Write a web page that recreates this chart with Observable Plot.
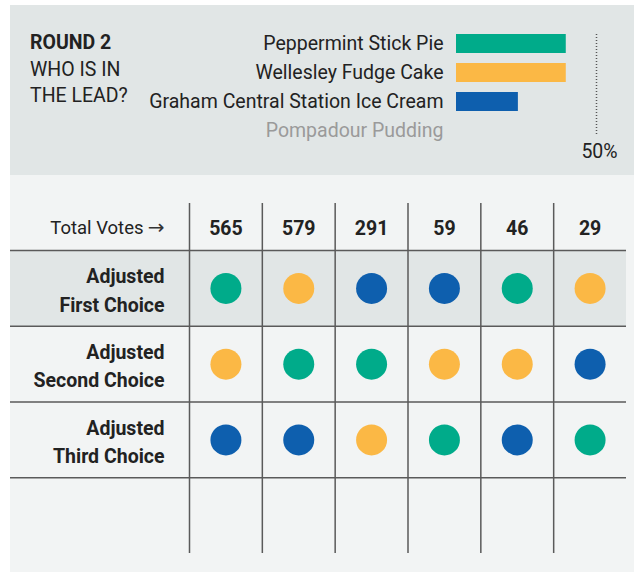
<!DOCTYPE html>
<html><head><meta charset="utf-8">
<script src="https://cdn.jsdelivr.net/npm/d3@7"></script>
<script src="https://cdn.jsdelivr.net/npm/@observablehq/plot@0.6"></script>
<style>
html,body{margin:0;padding:0;background:#fff;}
body{width:634px;height:572px;position:relative;overflow:hidden;font-family:Roboto,sans-serif;color:#222;}
#top{position:absolute;left:10px;top:5px;width:624px;height:170px;background:#e1e6e6;}
#bottom{position:absolute;left:10px;top:175px;width:624px;height:397px;background:#f2f4f4;}
#title{position:absolute;left:20px;top:25px;font-size:19.5px;line-height:26.5px;color:#222;}
#title b{font-weight:bold;}
svg{display:block;position:absolute;left:0;top:0;}
</style>
</head><body>
<div id="top"><div id="title"><b>ROUND 2</b><br>WHO IS IN<br>THE LEAD?</div></div>
<div id="bottom"></div>
<script>
const FONT = 'Roboto,sans-serif';

// Flavors and round-2 share of adjusted first-choice votes (%)
const flavorKeys = ["Peppermint", "Wellesley", "Graham", "Pompadour"];
const flavors = ["Peppermint Stick Pie", "Wellesley Fudge Cake", "Graham Central Station Ice Cream", "Pompadour Pudding"];
const leadShare = [39.2, 39.2, 22.1, 0];
const flavorColors = ["#00ab8a", "#fbb845", "#0e5fae", "#9a9a9a"];
const threshold = [50];

// Ballot groups
const votes = [565, 579, 291, 59, 46, 29];
const headerLabel = ["Total Votes"];
const rowLabels = ["Adjusted\nFirst Choice", "Adjusted\nSecond Choice", "Adjusted\nThird Choice"];
const firstChoice  = ["Peppermint", "Wellesley", "Graham", "Graham", "Peppermint", "Wellesley"];
const secondChoice = ["Wellesley", "Peppermint", "Peppermint", "Wellesley", "Wellesley", "Graham"];
const thirdChoice  = ["Graham", "Graham", "Wellesley", "Peppermint", "Graham", "Peppermint"];

const barData = flavors.map((name, i) => ({name, key: flavorKeys[i], share: leadShare[i]}));
const active = barData.filter(d => d.share > 0);
const eliminated = barData.filter(d => d.share <= 0);

const topPlot = Plot.plot({
  width: 624, height: 170,
  marginLeft: 446, marginRight: 38, marginTop: 24, marginBottom: 30,
  x: {domain: [0, 50], axis: null},
  y: {domain: flavors, axis: null, padding: 0},
  color: {domain: flavorKeys, range: flavorColors},
  style: {background: "transparent", fontFamily: FONT, fontSize: "19.5px", color: "#222", overflow: "visible"},
  marks: [
    Plot.barX(active, {x: "share", y: "name", fill: "key", insetTop: 5, insetBottom: 5}),
    Plot.text(active, {y: "name", text: "name", frameAnchor: "left", textAnchor: "end", dx: -13, fill: "#222"}),
    Plot.text(eliminated, {y: "name", text: "name", frameAnchor: "left", textAnchor: "end", dx: -13, fill: "#9a9a9a"}),
    Plot.ruleX(threshold, {x: d => d, stroke: "#555", strokeWidth: 1.5, strokeDasharray: "1,2", insetTop: 5, insetBottom: 9}),
    Plot.text(threshold, {x: d => d, text: d => `${d}%`, frameAnchor: "bottom", lineAnchor: "middle", dy: 6, dx: 3, fill: "#222"})
  ]
});
document.getElementById("top").appendChild(topPlot);

const choices = [firstChoice, secondChoice, thirdChoice];
const cells = choices.flatMap((row, r) => row.map((key, c) => ({row: r, col: c, key})));

const bottomPlot = Plot.plot({
  width: 624, height: 397,
  marginLeft: 179, marginRight: 8, marginTop: 75, marginBottom: 19,
  x: {domain: [0, votes.length], axis: null},
  y: {domain: [0, rowLabels.length + 1], axis: null, reverse: true},
  color: {domain: flavorKeys, range: flavorColors},
  style: {background: "transparent", fontFamily: FONT, fontSize: "19.5px", color: "#222", overflow: "visible"},
  marks: [
    Plot.rect([0], {x1: () => 0, x2: () => votes.length, y1: d => d, y2: d => d + 1, insetLeft: -179, fill: "#e1e6e6"}),
    Plot.ruleY(d3.range(rowLabels.length + 1), {y: d => d, insetLeft: -179, stroke: "#5a5a5a", strokeWidth: 1.5}),
    Plot.ruleX(d3.range(votes.length), {x: d => d, insetTop: -47, stroke: "#5a5a5a", strokeWidth: 1.5}),
    Plot.text(headerLabel, {x: () => 0, text: d => d, frameAnchor: "top", lineAnchor: "middle", dy: -22, dx: -46, textAnchor: "end", fill: "#222", fontSize: 18.5}),
    Plot.text(["→"], {x: () => 0, text: d => d, frameAnchor: "top", lineAnchor: "middle", dy: -23, dx: -25, textAnchor: "end", fill: "#333", fontFamily: "DejaVu Sans", fontSize: 20}),
    Plot.text(votes, {x: (d, i) => i + 0.5, text: d => d, frameAnchor: "top", lineAnchor: "middle", dy: -22, fontWeight: "bold", fill: "#222"}),
    Plot.text(rowLabels, {x: () => 0, y: (d, i) => i + 0.5, text: d => d, textAnchor: "end", dx: -25, fontWeight: "bold", lineHeight: 1.45, fill: "#222"}),
    Plot.dot(cells, {x: d => d.col + 0.5, y: d => d.row + 0.5, r: 15.5, fill: "key"})
  ]
});
document.getElementById("bottom").appendChild(bottomPlot);
</script>
</body></html>
